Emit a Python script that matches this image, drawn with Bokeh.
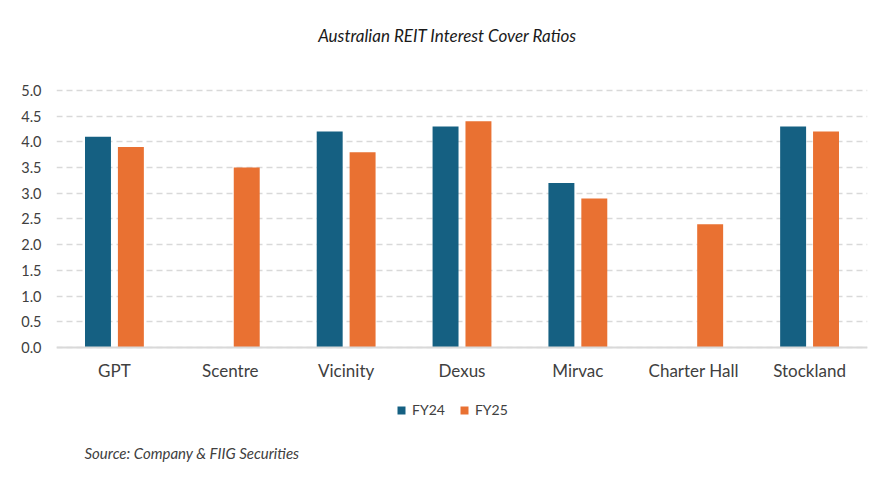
from bokeh.plotting import figure
from bokeh.models import ColumnDataSource, FactorRange, Range1d, Legend, LegendItem, Label, CustomJSTickFormatter, FixedTicker
from bokeh.transform import dodge
from bokeh.embed import file_html
from bokeh.resources import INLINE

companies = ["GPT", "Scentre", "Vicinity", "Dexus", "Mirvac", "Charter Hall", "Stockland"]
fy24 = [4.1, float("nan"), 4.2, 4.3, 3.2, float("nan"), 4.3]
fy25 = [3.9, 3.5, 3.8, 4.4, 2.9, 2.4, 4.2]
y_ticks = [0.0, 0.5, 1.0, 1.5, 2.0, 2.5, 3.0, 3.5, 4.0, 4.5, 5.0]

BLUE = "#156082"
ORANGE = "#E97132"
FONT = "Lato"
TXT = "#404040"

src = ColumnDataSource(dict(company=companies, fy24=fy24, fy25=fy25))

p = figure(width=878, height=474, x_range=FactorRange(*companies), y_range=Range1d(-2.471, 6.751),
           output_backend="svg", toolbar_location=None,
           min_border_left=56, min_border_right=11, min_border_top=0, min_border_bottom=0)
p.outline_line_color = None
p.background_fill_color = "white"

r1 = p.vbar(x=dodge("company", -0.142, range=p.x_range), top="fy24", width=0.224, source=src,
            color=BLUE, line_color=None)
r2 = p.vbar(x=dodge("company", 0.142, range=p.x_range), top="fy25", width=0.224, source=src,
            color=ORANGE, line_color=None)

p.yaxis.ticker = FixedTicker(ticks=y_ticks)
p.xgrid.grid_line_color = None
p.ygrid.grid_line_color = "#d9d9d9"
p.ygrid.grid_line_width = 1.5
p.ygrid.grid_line_dash = "6 4"

p.yaxis.formatter = CustomJSTickFormatter(code="return tick.toFixed(1);")
p.yaxis.axis_line_color = None
p.yaxis.major_tick_line_color = None
p.yaxis.major_tick_out = 0
p.yaxis.minor_tick_line_color = None
p.yaxis.minor_tick_out = 0
p.yaxis.major_label_standoff = 15
p.yaxis.major_label_text_font = FONT
p.yaxis.major_label_text_font_size = "14.5px"
p.yaxis.major_label_text_color = TXT

p.xaxis.fixed_location = 0
p.xaxis.axis_line_color = "#d9d9d9"
p.xaxis.axis_line_width = 2
p.xaxis.major_tick_line_color = None
p.xaxis.major_tick_out = 0
p.xaxis.minor_tick_line_color = None
p.xaxis.minor_tick_out = 0
p.xaxis.major_label_standoff = 13
p.xaxis.major_label_text_font = FONT
p.xaxis.major_label_text_font_size = "17px"
p.xaxis.major_label_text_color = TXT

title = Label(x=391, y=439, x_units="screen", y_units="screen", text="Australian REIT Interest Cover Ratios",
              text_align="center", text_baseline="middle", text_font=FONT, text_font_size="17px",
              text_font_style="italic", text_color="#1a1a1a")
p.add_layout(title)

source_lbl = Label(x=28, y=22, x_units="screen", y_units="screen", text="Source: Company & FIIG Securities",
                   text_align="left", text_baseline="middle", text_font=FONT, text_font_size="15px",
                   text_font_style="italic", text_color=TXT)
p.add_layout(source_lbl)

legend = Legend(items=[LegendItem(label="FY24", renderers=[r1]), LegendItem(label="FY25", renderers=[r2])],
                orientation="horizontal", location=(340, 56),
                glyph_width=10, glyph_height=10, label_text_font=FONT, label_text_font_size="14px",
                label_text_color=TXT, label_standoff=6, spacing=14, padding=0, margin=0,
                border_line_color=None, background_fill_alpha=0)
p.add_layout(legend)

open("out.html", "w").write(file_html(p, INLINE))
